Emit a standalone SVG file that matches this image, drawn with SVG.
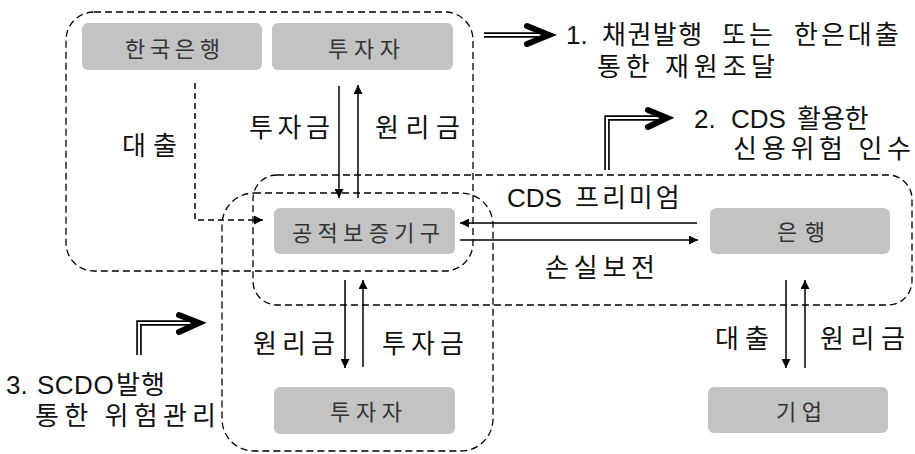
<svg xmlns="http://www.w3.org/2000/svg" width="915" height="454" viewBox="0 0 915 454">
<defs>
<marker id="ah" viewBox="0 0 10 10" refX="10" refY="5" markerWidth="10" markerHeight="9" markerUnits="userSpaceOnUse" orient="auto">
<path d="M0,0 L10,5 L0,10 Z" fill="#000"/>
</marker>
</defs>
<style>
.region{fill:none;stroke:#000;stroke-width:1.3;stroke-dasharray:7 4}
.node rect{fill:#c3c3c3;stroke:none}
.node text{font-family:"Noto Sans CJK KR","Noto Sans",sans-serif;font-size:22px;fill:#333}
.lbl{font-family:"Noto Sans CJK KR","Noto Sans",sans-serif;font-size:26px;fill:#111}
.lat{font-family:"Liberation Sans",Arial,sans-serif;font-size:26px}
.conn{fill:none;stroke:#000;stroke-width:1.5}
.dash{fill:none;stroke:#000;stroke-width:1.5;stroke-dasharray:6 4}
.dbl-o{fill:none;stroke:#000;stroke-width:5.5}
.dbl-i{fill:none;stroke:#fff;stroke-width:2.2}
.chev{fill:none;stroke:#000;stroke-width:6;stroke-linecap:round;stroke-linejoin:miter}
</style>
<rect width="915" height="454" fill="#fff"/>

<g id="regions">
<rect class="region" x="66" y="12" width="407" height="259" rx="28"/>
<rect class="region" x="253" y="175" width="659" height="130" rx="24"/>
<rect class="region" x="222" y="193" width="271" height="258" rx="32"/>
</g>

<g id="node-bok" class="node">
<rect x="82" y="23" width="180" height="47" rx="6"/>
<text x="125" y="57" textLength="95" lengthAdjust="spacing">한국은행</text>
</g>
<g id="node-investor-top" class="node">
<rect x="272" y="23" width="181" height="47" rx="6"/>
<text x="328" y="57" textLength="72" lengthAdjust="spacing">투자자</text>
</g>
<g id="node-public" class="node">
<rect x="274" y="208" width="181" height="46" rx="6"/>
<text x="292" y="241" textLength="148" lengthAdjust="spacing">공적보증기구</text>
</g>
<g id="node-bank" class="node">
<rect x="710" y="208" width="180" height="46" rx="6"/>
<text x="777" y="240" textLength="48" lengthAdjust="spacing">은행</text>
</g>
<g id="node-firm" class="node">
<rect x="708" y="387" width="180" height="46" rx="6"/>
<text x="776" y="420" textLength="46" lengthAdjust="spacing">기업</text>
</g>
<g id="node-investor-bottom" class="node">
<rect x="274" y="387" width="181" height="47" rx="6"/>
<text x="330" y="420" textLength="72" lengthAdjust="spacing">투자자</text>
</g>

<g id="connectors">
<path class="dash" d="M195,83 V220 H263" marker-end="url(#ah)"/>
<path class="conn" d="M339,86 V198" marker-end="url(#ah)"/>
<path class="conn" d="M358,198 V85" marker-end="url(#ah)"/>
<path class="conn" d="M697,223 H460" marker-end="url(#ah)"/>
<path class="conn" d="M460,240 H698" marker-end="url(#ah)"/>
<path class="conn" d="M345,280 V368" marker-end="url(#ah)"/>
<path class="conn" d="M363,367 V280" marker-end="url(#ah)"/>
<path class="conn" d="M786,280 V368" marker-end="url(#ah)"/>
<path class="conn" d="M805,368 V280" marker-end="url(#ah)"/>
</g>

<g id="labels">
<text class="lbl" x="249" y="137" textLength="81" lengthAdjust="spacing">투자금</text>
<text class="lbl" x="375" y="137" textLength="85" lengthAdjust="spacing">원리금</text>
<text class="lbl" x="122" y="155" textLength="55" lengthAdjust="spacing">대출</text>
<text class="lbl" y="207"><tspan class="lat" x="507">CDS</tspan><tspan x="575" letter-spacing="3">프리미엄</tspan></text>
<text class="lbl" x="545" y="277" textLength="110" lengthAdjust="spacing">손실보전</text>
<text class="lbl" x="253" y="353" textLength="82" lengthAdjust="spacing">원리금</text>
<text class="lbl" x="382" y="353" textLength="82" lengthAdjust="spacing">투자금</text>
<text class="lbl" x="715" y="348" textLength="54" lengthAdjust="spacing">대출</text>
<text class="lbl" x="820" y="348" textLength="85" lengthAdjust="spacing">원리금</text>
</g>

<g id="notes">
<path class="dbl-o" d="M484,35 H546"/>
<path class="dbl-i" d="M484,35 H546"/>
<path class="chev" d="M527,26 L549,35 L527,44"/>
<text class="lbl" y="44"><tspan class="lat" x="566">1.</tspan><tspan x="602" letter-spacing="1.5">채권발행</tspan><tspan x="722" letter-spacing="3">또는</tspan><tspan x="794" letter-spacing="3">한은대출</tspan></text>
<text class="lbl" x="597" y="76" textLength="178" lengthAdjust="spacing">통한 재원조달</text>

<path class="dbl-o" d="M607,170 V118 H662"/>
<path class="dbl-i" d="M607,170 V118 H662"/>
<path class="chev" d="M648,110 L667,118 L648,127"/>
<text class="lbl" y="128"><tspan class="lat" x="694">2.</tspan><tspan class="lat" x="731">CDS</tspan><tspan x="797">활용한</tspan></text>
<text class="lbl" x="733" y="158" textLength="178" lengthAdjust="spacing">신용위험 인수</text>

<path class="dbl-o" d="M139,355 V323 H195"/>
<path class="dbl-i" d="M139,355 V323 H195"/>
<path class="chev" d="M179,315 L199,323 L179,332"/>
<text class="lbl" y="394"><tspan class="lat" x="6">3.</tspan><tspan class="lat" x="37" letter-spacing="0.5">SCDO</tspan><tspan x="116" letter-spacing="1">발행</tspan></text>
<text class="lbl" x="35" y="425" textLength="181" lengthAdjust="spacing">통한 위험관리</text>
</g>
</svg>
